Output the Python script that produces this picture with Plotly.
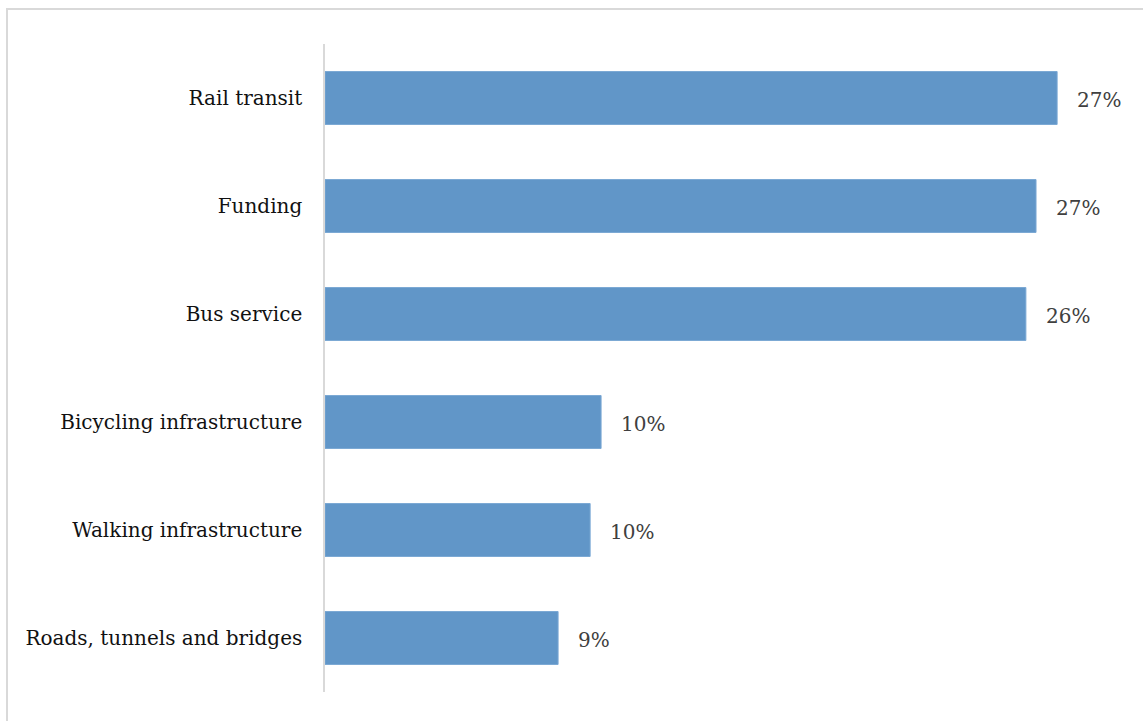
import plotly.graph_objects as go

# Share of responses by transportation priority (percent)
categories = [
    "Roads, tunnels and bridges",
    "Walking infrastructure",
    "Bicycling infrastructure",
    "Bus service",
    "Funding",
    "Rail transit",
]
shares = [8.73, 9.93, 10.34, 26.25, 26.63, 27.42]

W, H = 1143, 721
ML, MR, MT, MB = 325, 17, 44, 29
X_MAX = 30
FONT = "DejaVu Serif, Liberation Serif, serif"

fig = go.Figure(
    go.Bar(
        x=shares,
        y=categories,
        orientation="h",
        width=0.49,
        marker=dict(color="#6196C8", line=dict(color="#7AA8D4", width=1)),
        hoverinfo="skip",
    )
)

# Value labels to the right of each bar
for cat, val in zip(categories, shares):
    fig.add_annotation(
        x=val, y=cat, text=f"{val:.0f}%", showarrow=False,
        xanchor="left", yanchor="middle", xshift=18, yshift=-2,
        font=dict(family=FONT, size=20, color="#404040"),
    )

# Light frame around the chart
pw = W - ML - MR
ph = H - MT - MB
fig.add_shape(
    type="rect", xref="paper", yref="paper",
    x0=(7 - ML) / pw, x1=(W + 5 - ML) / pw,
    y0=-(MB + 5) / ph, y1=(H - 9 - MB) / ph,
    line=dict(color="#d9d9d9", width=2), fillcolor="rgba(0,0,0,0)", layer="below",
)

fig.update_layout(
    width=W, height=H,
    margin=dict(l=ML, r=MR, t=MT, b=MB),
    paper_bgcolor="white", plot_bgcolor="white",
    showlegend=False,
    xaxis=dict(range=[0, X_MAX], visible=False),
    yaxis=dict(
        showline=True, linecolor="#d9d9d9", linewidth=1.5,
        ticks="outside", ticklen=17, tickcolor="rgba(0,0,0,0)",
        tickfont=dict(family=FONT, size=20, color="#111111"),
        showgrid=False, zeroline=False,
    ),
)

fig.write_html("out.html")
